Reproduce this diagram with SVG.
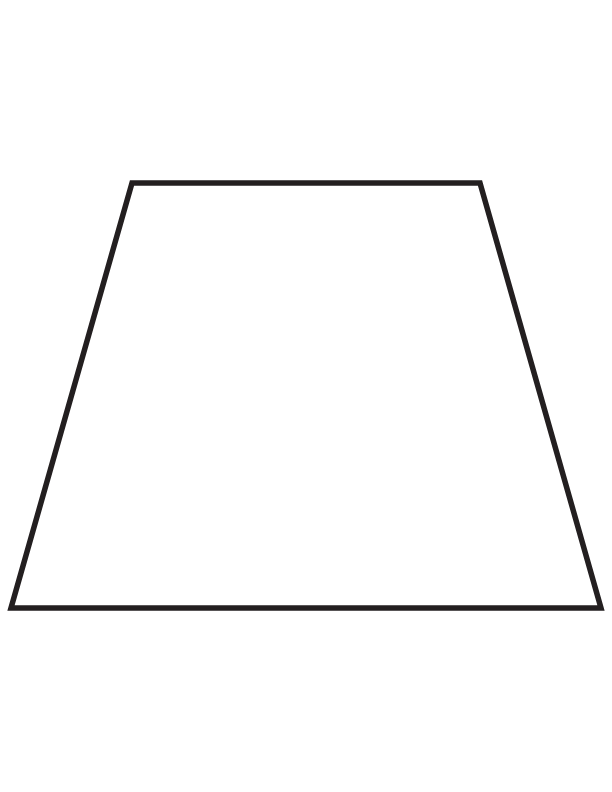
<svg xmlns="http://www.w3.org/2000/svg" width="612" height="792" viewBox="0 0 612 792">
<style>.shape{fill:#fff;stroke:#231f20;stroke-width:5.5;stroke-linejoin:miter}</style>
<rect width="612" height="792" fill="#fff"/>
<g id="trapezoid">
<polygon class="shape" points="132,183 480,183 601,608 11,608"/>
</g>
<g id="connectors"/>
</svg>
